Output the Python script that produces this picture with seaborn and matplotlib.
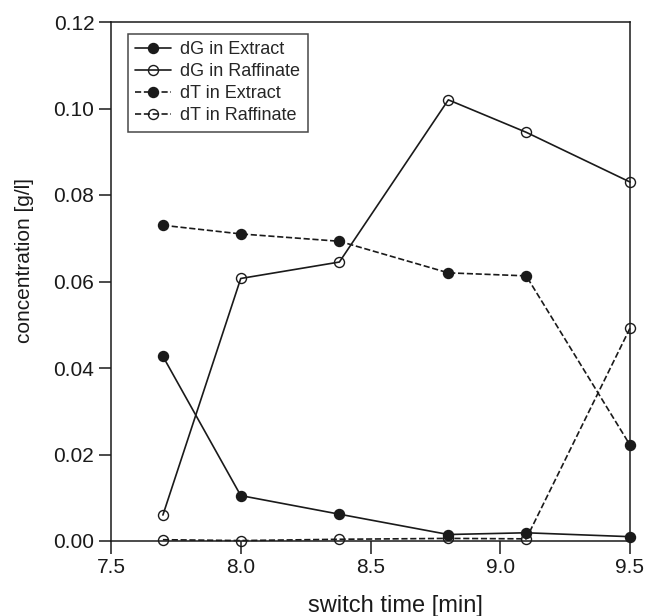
import matplotlib
matplotlib.use("Agg")
import matplotlib.pyplot as plt
import seaborn as sns
import numpy as np
from matplotlib.ticker import FormatStrFormatter

switch_time = [7.7, 8.0, 8.38, 8.8, 9.1, 9.5]
dG_extract = [0.0427, 0.0105, 0.0062, 0.0015, 0.0019, 0.0010]
dG_raffinate = [0.0060, 0.0607, 0.0645, 0.1020, 0.0945, 0.0830]
dT_extract = [0.0730, 0.0710, 0.0693, 0.0620, 0.0613, 0.0222]
dT_raffinate = [0.0003, 0.0001, 0.0004, 0.0006, 0.0005, 0.0492]

x_ticks = [7.5, 8.0, 8.5, 9.0, 9.5]
y_ticks = [0.00, 0.02, 0.04, 0.06, 0.08, 0.10, 0.12]

sns.set_theme(style="white")
plt.rcParams['font.family'] = ['Liberation Sans', 'DejaVu Sans']

fig = plt.figure(figsize=(6.46, 6.16), dpi=100)
ax = fig.add_axes([111/646, 1-541/616, (630-111)/646, (541-22)/616])

series = [
    (dG_extract, "dG in Extract", "-", "k"),
    (dG_raffinate, "dG in Raffinate", "-", "none"),
    (dT_extract, "dT in Extract", "--", "k"),
    (dT_raffinate, "dT in Raffinate", "--", "none"),
]
for vals, lab, ls, mfc in series:
    sns.lineplot(x=switch_time, y=vals, ax=ax, color="k", linestyle=ls,
                 marker="o", markersize=7.2, markerfacecolor=mfc,
                 markeredgecolor="k", markeredgewidth=1.0, linewidth=1.2,
                 label=lab, sort=False, clip_on=False,
                 dashes=False if ls == "-" else (5, 4))

ax.set_xlim(7.5, 9.5)
ax.set_ylim(0, 0.12)
ax.set_xticks(x_ticks)
ax.set_yticks(y_ticks)
ax.xaxis.set_major_formatter(FormatStrFormatter("%.1f"))
ax.yaxis.set_major_formatter(FormatStrFormatter("%.2f"))
ax.tick_params(axis="both", direction="out", length=9, width=1.1,
               labelsize=15, pad=3, colors="k", bottom=True, left=True)
for s in ax.spines.values():
    s.set_color("k")
    s.set_linewidth(1.1)
ax.set_xlabel("switch time [min]", fontsize=17, color="k")
ax.set_ylabel("concentration [g/l]", fontsize=15, color="k")
ax.xaxis.set_label_coords(0.549, -0.105)
ax.yaxis.set_label_coords(-0.148, 0.54)

leg = ax.legend(loc="upper left", bbox_to_anchor=(17/519, 1-12/519),
                borderaxespad=0, frameon=True, fancybox=False,
                fontsize=13, handlelength=2.0, handletextpad=0.5,
                labelspacing=0.28, borderpad=0.4)
leg.get_frame().set_edgecolor("k")
leg.get_frame().set_linewidth(1.1)

fig.savefig("out.png", dpi=100)
